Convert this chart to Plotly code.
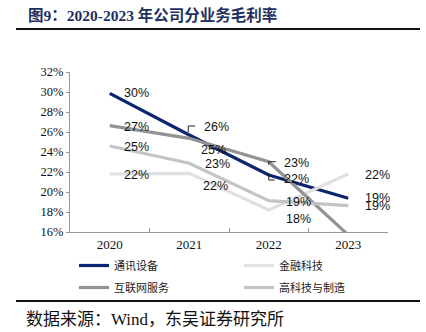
import plotly.graph_objects as go

years = ["2020", "2021", "2022", "2023"]
tongxun = [29.87, 25.7, 21.7, 19.37]      # 通讯设备
jinrong = [21.8, 21.87, 18.2, 21.8]       # 金融科技
hulianwang = [26.63, 25.37, 23.03, 15.7]  # 互联网服务
gaokeji = [24.6, 22.87, 19.13, 18.63]     # 高科技与制造
series_names = ["通讯设备", "金融科技", "互联网服务", "高科技与制造"]
y_ticks = [16, 18, 20, 22, 24, 26, 28, 30, 32]

W, H = 426, 332
L, R, T, B = 70, 38, 72, 100
PW, PH = W - L - R, H - T - B

def px(x):
    return (x - L) / PW

def py(y):
    return (H - B - y) / PH

colors = ["#0b2570", "#e0e0e0", "#939393", "#c4c4c4"]
data = [tongxun, jinrong, hulianwang, gaokeji]
legend_of = ["legend", "legend2", "legend", "legend2"]

fig = go.Figure()
for i, (name, vals, c) in enumerate(zip(series_names, data, colors)):
    fig.add_trace(go.Scatter(x=years, y=vals, mode="lines", name=name,
                             legend=legend_of[i], legendgroup=f"g{i}",
                             line=dict(color=c, width=3.2)))

# data labels: (series index, year index, dx, dy)
label_pos = [
    (0, 0, 12, 0), (2, 0, 12, -1), (3, 0, 12, -1), (1, 0, 12, -1),
    (0, 1, 13, 8), (2, 1, 10, -12), (3, 1, 14, -1), (1, 1, 12, -13),
    (2, 2, 13, -1), (0, 2, 13, -4), (3, 2, 15, -1), (1, 2, 15, -9),
    (1, 3, 15, -1), (0, 3, 15, 0), (3, 3, 15, 0),
]
for si, yi, dx, dy in label_pos:
    v = data[si][yi]
    fig.add_annotation(x=yi, y=v, xref="x", yref="y",
                       text=f"{round(v)}%", showarrow=False,
                       xanchor="left", yanchor="middle", xshift=dx, yshift=dy,
                       font=dict(family="Liberation Sans, Arial", size=12.5, color="#111"))

# leader lines (pixel paths anchored at data points)
leaders = [
    (0, 1, "M -1,3 L -1,9 L 6,9"),
    (2, 2, "M 0,-3 L 0,0 L 7,0"),
    (0, 2, "M 0,2 L 0,-5 L 6,-5"),
]
for si, yi, path in leaders:
    fig.add_shape(type="path", xref="x", yref="y", xsizemode="pixel", ysizemode="pixel",
                  xanchor=yi, yanchor=data[si][yi], path=path,
                  line=dict(color="#222", width=1))

# title and source
fig.add_annotation(x=px(26), y=py(15), xref="paper", yref="paper", showarrow=False,
                   xanchor="left", yanchor="middle",
                   text="<b>图9：2020-2023 年公司分业务毛利率</b>",
                   font=dict(family="Liberation Serif, Noto Sans CJK SC", size=15.5, color="#1f3060"))
fig.add_shape(type="line", xref="paper", yref="paper", x0=px(16), x1=px(420), y0=py(29), y1=py(29),
              line=dict(color="#111", width=2))
fig.add_shape(type="line", xref="paper", yref="paper", x0=px(16), x1=px(420), y0=py(301), y1=py(301),
              line=dict(color="#111", width=2))
fig.add_annotation(x=px(24), y=py(319), xref="paper", yref="paper", showarrow=False,
                   xanchor="left", yanchor="middle",
                   text="数据来源：Wind，东吴证券研究所",
                   font=dict(family="Liberation Serif, Noto Sans CJK SC", size=17, color="#111"))

leg_common = dict(orientation="v", xanchor="left", yanchor="top", tracegroupgap=3,
                  font=dict(family="Noto Sans CJK SC", size=11, color="#222"),
                  bgcolor="rgba(0,0,0,0)")
fig.update_layout(
    width=W, height=H, margin=dict(l=L, r=R, t=T, b=B, autoexpand=False),
    paper_bgcolor="white", plot_bgcolor="white",
    showlegend=True,
    legend=dict(x=px(74), y=py(251), **leg_common),
    legend2=dict(x=px(239), y=py(251), **leg_common),
    xaxis=dict(type="category", range=[-0.5, 3.5], showline=True, linecolor="#999", linewidth=1,
               ticks="inside", ticklen=4, tickcolor="#999", tickson="boundaries",
               showgrid=False, zeroline=False,
               tickfont=dict(family="Liberation Serif, Times New Roman", size=13, color="#111")),
    yaxis=dict(range=[16, 32], tickvals=y_ticks, ticktext=[f"{t}%" for t in y_ticks],
               showline=True, linecolor="#999", linewidth=1, ticks="outside", ticklen=3,
               tickcolor="#999", showgrid=False, zeroline=False,
               tickfont=dict(family="Liberation Serif, Times New Roman", size=12.5, color="#111")),
)

fig.write_html("out.html")
